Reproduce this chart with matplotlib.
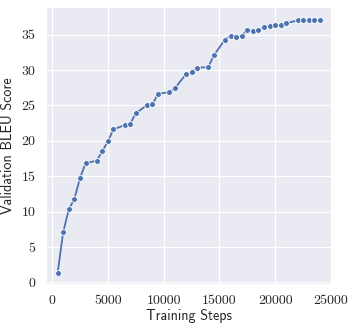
import matplotlib
matplotlib.use("Agg")
import matplotlib.pyplot as plt
import seaborn as sns

# validation checkpoints
steps = [500, 1000, 1500, 2000, 2500, 3000, 4000, 4500, 5000, 5500,
         6500, 7000, 7500, 8500, 9000, 9500, 10500, 11000, 12000, 12500,
         13000, 14000, 14500, 15500, 16000, 16500, 17000, 17500, 18000, 18500,
         19000, 19500, 20000, 20500, 21000, 22000, 22500, 23000, 23500, 24000]
bleu = [1.33, 7.1, 10.3, 11.8, 14.7, 16.8, 17.2, 18.5, 19.9, 21.6,
        22.2, 22.35, 23.9, 25.0, 25.15, 26.65, 26.85, 27.4, 29.4, 29.7,
        30.3, 30.4, 32.05, 34.3, 34.8, 34.65, 34.8, 35.7, 35.5, 35.65,
        36.0, 36.2, 36.3, 36.4, 36.6, 37.0, 37.0, 37.05, 37.0, 37.0]
xticks = [0, 5000, 10000, 15000, 20000, 25000]
yticks = [0, 5, 10, 15, 20, 25, 30, 35]

sns.set_style("darkgrid")

fig = plt.figure(figsize=(3.54, 3.3), dpi=100)
ax = fig.add_axes([0.13, 0.139, 0.805, 0.84])

ax.plot(steps, bleu, color="#4c72b0", lw=1.3, marker="o", ms=4.2,
        mec="white", mew=0.6)

ax.set_xlim(-540, 24970)
ax.set_ylim(-0.25, 38.9)
ax.set_xticks(xticks)
ax.set_yticks(yticks)
ax.set_xticklabels([str(t) for t in xticks], fontfamily="cmr10", fontsize=10)
ax.set_yticklabels([str(t) for t in yticks], fontfamily="cmr10", fontsize=10)
ax.tick_params(axis="both", pad=4, colors="#262626")

ax.set_xlabel("Training Steps", fontfamily="cmss10", fontsize=10.2, labelpad=2)
ax.set_ylabel("Validation BLEU Score", fontfamily="cmss10", fontsize=10.2, labelpad=5)

fig.savefig("out.png", dpi=100)
